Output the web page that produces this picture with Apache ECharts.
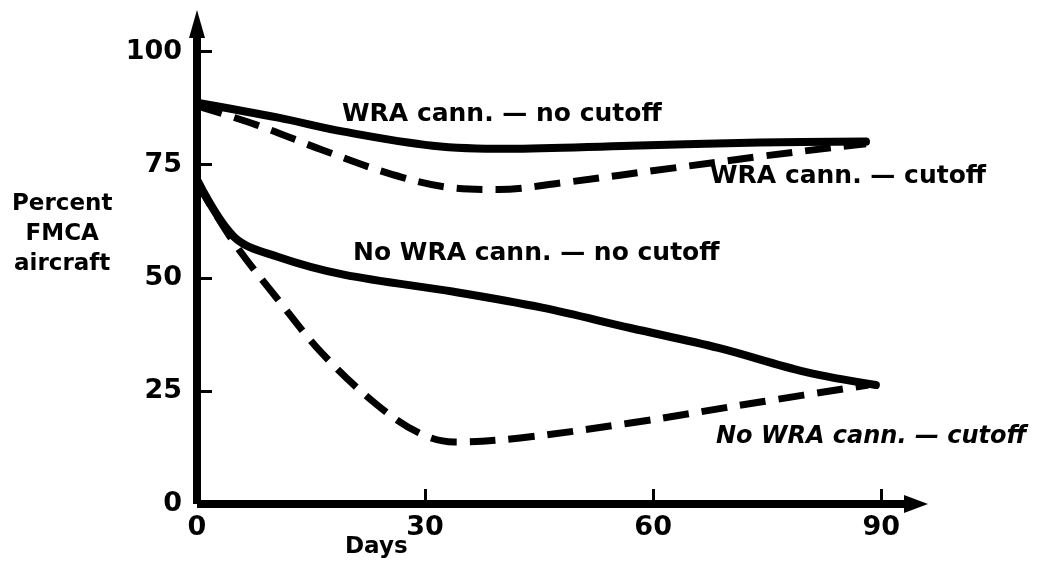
<!DOCTYPE html>
<html>
<head>
<meta charset="utf-8">
<script src="https://cdn.jsdelivr.net/npm/echarts@6/dist/echarts.min.js"></script>
<style>
html,body{margin:0;padding:0;background:#fff;}
#chart{width:1039px;height:567px;}
</style>
</head>
<body>
<div id="chart"></div>
<script>
// Days (x) and Percent FMCA aircraft (y)
const wraNoCutoff = [[0,88.7],[10.7,85.4],[19.3,82.3],[31,79.2],[40.8,78.5],[57,79.2],[74,79.9],[88,80.1]];
const wraCutoff = [[0,88],[7.8,83.8],[16.4,78.3],[25,73.2],[32.6,70.1],[39.6,69.5],[48,71],[62.8,74.3],[74,76.8],[84.7,79],[88,79.6]];
const noWraNoCutoff = [[0,71.7],[4.9,59],[10.7,54.6],[19.3,50.7],[33.8,46.9],[45.4,43.4],[57,38.9],[68.6,34.5],[80,29.2],[89.3,26.3]];
const noWraCutoff = [[0,71],[4.9,57.7],[10.7,45.1],[16.4,33.4],[23.4,22.3],[29.2,15.7],[33.8,13.7],[42.5,14.6],[57,17.9],[74.3,22.6],[88.3,26.3]];
const xTicks = [0,30,60,90];
const yTicks = [0,25,50,75,100];
const seriesNames = ['WRA cann. — no cutoff','WRA cann. — cutoff','No WRA cann. — no cutoff','No WRA cann. — cutoff'];
const xTitle = 'Days';
const yTitle = 'Percent\nFMCA\naircraft';

const chart = echarts.init(document.getElementById('chart'), null, {renderer:'canvas'});
const F = 'DejaVu Sans';
const solid = {color:'#000', width:8, type:'solid', cap:'round', join:'round'};
const dashed = {color:'#000', width:7, type:[26,13], cap:'butt', join:'round'};

chart.setOption({
  animation:false,
  backgroundColor:'#fff',
  grid:{left:197, right:135, top:38, bottom:63, containLabel:false},
  xAxis:{
    type:'value', min:0, max:93,
    splitLine:{show:false},
    axisLine:{show:true, onZero:true, symbol:['none','triangle'], symbolSize:[18,24], symbolOffset:[0,12], lineStyle:{color:'#000', width:8, cap:'butt'}},
    axisTick:{show:true, inside:true, length:15, customValues:[30,60,90], lineStyle:{color:'#000', width:3}},
    axisLabel:{show:true, customValues:xTicks, margin:10, color:'#000', fontFamily:F, fontWeight:'bold', fontSize:27}
  },
  yAxis:{
    type:'value', min:0, max:103,
    splitLine:{show:false},
    axisLine:{show:true, onZero:true, symbol:['none','triangle'], symbolSize:[16,28], symbolOffset:[0,14], lineStyle:{color:'#000', width:8, cap:'butt'}},
    axisTick:{show:true, inside:true, length:15, customValues:[25,50,75,100], lineStyle:{color:'#000', width:3}},
    axisLabel:{show:true, customValues:yTicks, margin:15, color:'#000', fontFamily:F, fontWeight:'bold', fontSize:27}
  },
  series:[
    {name:seriesNames[0], type:'line', data:wraNoCutoff, smooth:0.35, showSymbol:false, lineStyle:solid, z:5},
    {name:seriesNames[1], type:'line', data:wraCutoff, smooth:0.35, showSymbol:false, lineStyle:dashed, z:4},
    {name:seriesNames[2], type:'line', data:noWraNoCutoff, smooth:0.35, showSymbol:false, lineStyle:solid, z:5},
    {name:seriesNames[3], type:'line', data:noWraCutoff, smooth:0.35, showSymbol:false, lineStyle:dashed, z:4}
  ],
  graphic:[
    {type:'text', left:342, top:102, style:{text:seriesNames[0], fill:'#000', font:'bold 25px "DejaVu Sans"'}},
    {type:'text', left:710, top:164, style:{text:seriesNames[1], fill:'#000', font:'bold 25px "DejaVu Sans"'}},
    {type:'text', left:353, top:241, style:{text:seriesNames[2], fill:'#000', font:'bold 25px "DejaVu Sans"'}},
    {type:'text', left:716, top:425, style:{text:seriesNames[3], fill:'#000', font:'italic bold 24px "DejaVu Sans"'}},
    {type:'text', left:345, top:536, style:{text:xTitle, fill:'#000', font:'bold 23px "DejaVu Sans"'}},
    {type:'text', left:12, top:189, style:{text:yTitle, fill:'#000', font:'bold 23px "DejaVu Sans"', textAlign:'center', lineHeight:30}}
  ]
});
</script>
</body>
</html>
